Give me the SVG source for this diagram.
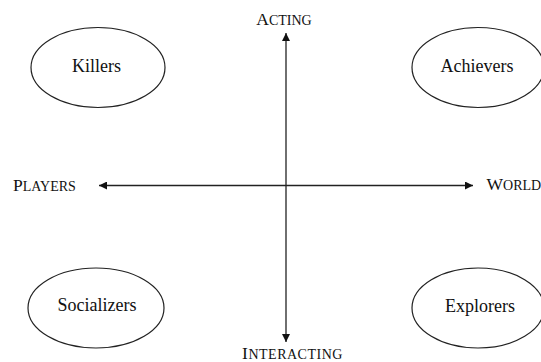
<svg xmlns="http://www.w3.org/2000/svg" width="541" height="362" viewBox="0 0 541 362">
<style>
.node ellipse{fill:#fff;stroke:#222;stroke-width:1.2}
.lbl{font-family:"Liberation Serif","Times New Roman",serif;font-size:18px;fill:#111;text-anchor:middle}
.ax{font-family:"Liberation Serif","Times New Roman",serif;font-size:14px;fill:#111}
.ax .b{font-size:17.5px}
.conn line{stroke:#222;stroke-width:1.3}
</style>
<defs>
<marker id="ah" viewBox="0 0 8 8" refX="8" refY="4" markerWidth="8" markerHeight="8" markerUnits="userSpaceOnUse" orient="auto-start-reverse">
<path d="M0,0 L8,4 L0,8 z" fill="#111"/>
</marker>
</defs>
<rect width="541" height="362" fill="#fff"/>
<g class="conn">
<line x1="286" y1="342" x2="286" y2="33" marker-end="url(#ah)" marker-start="url(#ah)"/>
<line x1="99" y1="185.5" x2="473" y2="185.5" marker-end="url(#ah)" marker-start="url(#ah)"/>
</g>
<g id="killers" class="node"><ellipse cx="98" cy="67.5" rx="67" ry="40"/><text class="lbl" x="96.5" y="72">Killers</text></g>
<g id="achievers" class="node"><ellipse cx="478" cy="67.5" rx="66" ry="40"/><text class="lbl" x="477" y="72">Achievers</text></g>
<g id="socializers" class="node"><ellipse cx="96" cy="308" rx="68" ry="40"/><text class="lbl" x="97" y="311">Socializers</text></g>
<g id="explorers" class="node"><ellipse cx="478" cy="308" rx="66" ry="40"/><text class="lbl" x="480" y="311.5">Explorers</text></g>
<g id="axis-labels">
<text class="ax" x="284" y="25" text-anchor="middle"><tspan class="b">A</tspan>CTING</text>
<text class="ax" x="292.5" y="359" text-anchor="middle" letter-spacing="0.5"><tspan class="b">I</tspan>NTERACTING</text>
<text class="ax" x="13" y="191"><tspan class="b">P</tspan>LAYERS</text>
<text class="ax" x="486.5" y="190"><tspan class="b">W</tspan>ORLD</text>
</g>
</svg>
